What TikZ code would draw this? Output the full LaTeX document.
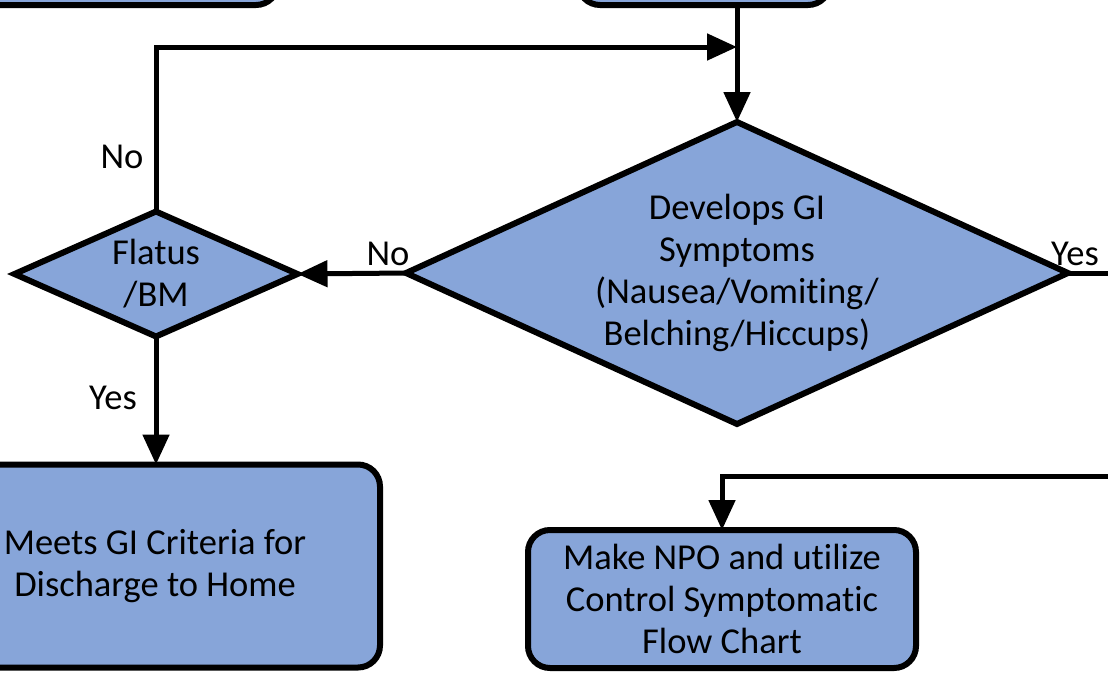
\documentclass[tikz,border=0pt]{standalone}
\usepackage{fontspec}
\setmainfont{Carlito}[Ligatures={NoCommon}]
\usetikzlibrary{shapes.geometric,arrows.meta}
\definecolor{boxblue}{RGB}{135,165,217}
\tikzset{
  box/.style={draw=black,fill=boxblue,line width=6pt,rounded corners=22pt,align=center,inner sep=0pt,outer sep=0pt,font=\fontsize{36.5}{42}\selectfont},
  dec/.style={draw=black,fill=boxblue,line width=6pt,diamond,align=center,inner sep=0pt,outer sep=0pt,font=\fontsize{36.5}{42}\selectfont},
  conn/.style={line width=5pt},
  arr/.style={line width=5pt,-{Triangle[length=30pt,width=26pt]}},
  lbl/.style={font=\fontsize{36.5}{42}\selectfont,inner sep=0pt}
}
\begin{document}
\begin{tikzpicture}[x=1pt,y=-1pt]
\useasboundingbox (0,0) rectangle (1108,672);
\clip (0,0) rectangle (1108,672);
% top boxes (cut off)
\node[box,minimum width=360pt,minimum height=80pt] (topl) at (98,-35) {};
\node[box,minimum width=252pt,minimum height=80pt] (topc) at (704,-35) {};
% diamonds
\node[dec,aspect=2.4,minimum width=657pt,minimum height=302pt] (gi) at (737,273) {Develops GI\\Symptoms\\(Nausea/Vomiting/\\Belching/Hiccups)};
\node[dec,aspect=2.6,minimum width=283pt,minimum height=125pt] (flat) at (156,274) {Flatus\\/BM};
% boxes
\node[box,minimum width=450pt,minimum height=203pt] (meets) at (155,566) {Meets GI Criteria for\\Discharge to Home};
\node[box,minimum width=388pt,minimum height=138pt] (npo) at (722,599) {Make NPO and utilize\\Control Symptomatic\\Flow Chart};
% coordinates
\coordinate (join) at (737,47);
\coordinate (rOut) at (1120,273);
\coordinate (rIn) at (1120,476);
% connectors
\draw[arr] (topc.south -| gi.north) -- (gi.north);
\draw[arr] (flat.north) |- (join);
\draw[arr] (gi.west) -- (flat.east);
\draw[arr] (flat.south) -- (flat.south |- meets.north);
\draw[conn] (gi.east) -- (rOut);
\draw[arr] (rIn) -| (npo.north);
% labels
\node[lbl] (l1) at (122,157) {No};
\node[lbl] (l2) at (388,254) {No};
\node[lbl] (l3) at (1075,254) {Yes};
\node[lbl] (l4) at (113,398) {Yes};
\end{tikzpicture}
\end{document}
